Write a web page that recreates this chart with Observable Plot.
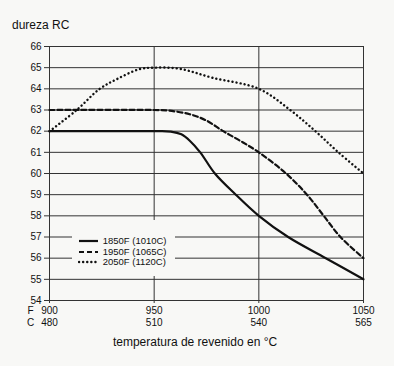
<!DOCTYPE html>
<html><head><meta charset="utf-8">
<script src="https://cdn.jsdelivr.net/npm/d3@7"></script>
<script src="https://cdn.jsdelivr.net/npm/@observablehq/plot@0.6"></script>
<style>
body{margin:0;background:#f8f8f6;font-family:"Liberation Sans",Arial,sans-serif;color:#111;}
#wrap{position:relative;width:394px;height:366px;}
#wrap svg{position:absolute;left:0;top:0;background:transparent;}
.t{position:absolute;white-space:nowrap;}
#legend{position:absolute;left:72px;top:220px;width:103px;height:56px;background:#f8f8f6;}
#legend .row{position:absolute;left:6px;height:10px;font-size:9.5px;line-height:10px;}
#legend svg{position:static;vertical-align:middle;}
</style></head><body><div id="wrap"></div>
<script>
// data
const yTicks = [54,55,56,57,58,59,60,61,62,63,64,65,66];
const xTicksF = [900,950,1000,1050];
const xTicksC = ["480","510","540","565"];
const seriesNames = ["1850F (1010C)","1950F (1065C)","2050F (1120C)"];

const s1850x = [900, 950, 958, 963, 967, 972, 979, 989, 1000, 1014, 1032, 1050];
const s1850y = [62, 62, 61.98, 61.85, 61.55, 61, 60, 59, 58, 57, 56, 55];

const s1950x = [900, 950, 957, 967, 975, 983, 991, 1000, 1013, 1023, 1031, 1039, 1050];
const s1950y = [63, 63, 62.97, 62.8, 62.5, 62, 61.55, 61, 60, 59, 58, 57, 56];

const s2050x = [900, 913, 924, 932, 943, 950, 962, 978, 1000, 1015, 1027, 1038, 1050];
const s2050y = [62, 63, 64, 64.45, 64.93, 65, 64.95, 64.52, 64, 63, 62, 61, 60];

const toRows = (xs, ys) => xs.map((x, i) => ({x, y: ys[i]}));
const cMap = new Map(xTicksF.map((f, i) => [f, xTicksC[i]]));

const styles = [
  {strokeWidth: 2.2},
  {strokeWidth: 2.2, strokeDasharray: "5,3"},
  {strokeWidth: 2.4, strokeDasharray: "0.1,4", strokeLinecap: "round"}
];

const chart = Plot.plot({
  width: 394, height: 366,
  marginLeft: 49, marginRight: 31, marginTop: 46, marginBottom: 66,
  style: {background: "transparent", fontFamily: "Liberation Sans, Arial, sans-serif", color: "#111"},
  x: {domain: [900, 1050]},
  y: {domain: [54, 66]},
  marks: [
    Plot.ruleY(yTicks, {stroke: "#333", strokeWidth: 1}),
    Plot.ruleX(xTicksF, {stroke: "#333", strokeWidth: 1, insetBottom: -3}),
    Plot.axisY({ticks: yTicks, tickSize: 5, tickPadding: 3, fontSize: 10, label: null, stroke: "#333"}),
    Plot.axisX({ticks: xTicksF, tickSize: 0, tickPadding: 5, fontSize: 10, label: null, lineHeight: 1.2,
      tickFormat: d => d + "\n" + cMap.get(d)}),
    Plot.text(["F\nC"], {x: () => xTicksF[0], y: () => yTicks[0], dx: -19, dy: 5, fontSize: 10,
      lineAnchor: "top", lineHeight: 1.2, textAnchor: "middle", fill: "#111"}),
    Plot.line(toRows(s1850x, s1850y), {x: "x", y: "y", curve: "catmull-rom", stroke: "#111", ...styles[0]}),
    Plot.line(toRows(s1950x, s1950y), {x: "x", y: "y", curve: "catmull-rom", stroke: "#111", ...styles[1]}),
    Plot.line(toRows(s2050x, s2050y), {x: "x", y: "y", curve: "catmull-rom", stroke: "#111", ...styles[2]})
  ]
});

const wrap = document.getElementById("wrap");
wrap.appendChild(chart);

const title = document.createElement("div");
title.className = "t";
title.style.cssText = "left:12px;top:18px;font-size:12px;";
title.textContent = "dureza RC";
wrap.appendChild(title);

const xlab = document.createElement("div");
xlab.className = "t";
xlab.style.cssText = "left:0;width:390px;text-align:center;top:335px;font-size:12px;";
xlab.textContent = "temperatura de revenido en °C";
wrap.appendChild(xlab);

const legend = document.createElement("div");
legend.id = "legend";
seriesNames.forEach((name, i) => {
  const row = document.createElement("div");
  row.className = "row";
  row.style.top = (16 + i * 10.5) + "px";
  const st = styles[i];
  row.innerHTML = `<svg width="22" height="8"><line x1="1" x2="20" y1="4" y2="4" stroke="#111" stroke-width="${st.strokeWidth}" ${st.strokeDasharray ? `stroke-dasharray="${st.strokeDasharray}"` : ""} ${st.strokeLinecap ? `stroke-linecap="${st.strokeLinecap}"` : ""}/></svg> <span>${name}</span>`;
  legend.appendChild(row);
});
wrap.appendChild(legend);
</script>
</body></html>
